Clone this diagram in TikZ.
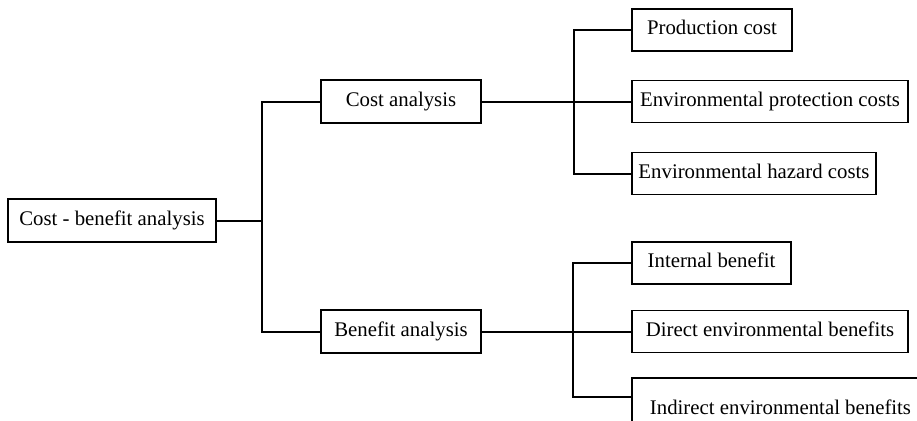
\documentclass[tikz,border=0pt]{standalone}
\usepackage{fontspec}
\setmainfont{Liberation Serif}
\begin{document}
\begin{tikzpicture}[x=1pt,y=-1pt,
  box/.style={draw, line width=1.3pt, rectangle, inner sep=0pt, minimum height=42pt,
    font=\fontsize{20.8}{24}\selectfont, text height=14pt, text depth=4.5pt},
  conn/.style={line width=2pt}]
\useasboundingbox (0,0) rectangle (917,420);
\clip (0,0) rectangle (917,420);
% nodes
\node[box, minimum width=208pt, minimum height=43pt] (root) at (112,220.5) {Cost - benefit analysis};
\node[box, minimum width=160pt, minimum height=43pt] (cost) at (401,101.5) {Cost analysis};
\node[box, minimum width=160pt, minimum height=43pt] (benefit) at (401,331.5) {Benefit analysis};
\node[box, minimum width=160pt] (pc) at (712,30) {Production cost};
\node[box, minimum width=276pt] (epc) at (770,101.5) {Environmental protection costs};
\node[box, minimum width=244pt] (ehc) at (754,173.5) {Environmental hazard costs};
\node[box, minimum width=159pt] (ib) at (711.5,263) {Internal benefit};
\node[box, minimum width=276pt] (deb) at (770,331.5) {Direct environmental benefits};
\node[box, minimum width=297pt, minimum height=64pt] (ieb) at (780.5,410) {Indirect environmental benefits};
% bus coordinates
\coordinate (lv) at (262,0);
\coordinate (cv) at (574,0);
\coordinate (bv) at (573,0);
% connectors
\draw[conn] (root.east) -- (root.east -| lv);
\draw[conn] (cost.west) -- (cost.west -| lv) -- (benefit.west -| lv) -- (benefit.west);
\draw[conn] (cost.east) -- (epc.west);
\draw[conn] (pc.west) -- (pc.west -| cv) -- (ehc.west -| cv) -- (ehc.west);
\draw[conn] (benefit.east) -- (deb.west);
\draw[conn] (ib.west) -- (ib.west -| bv) -- ([yshift=13pt]ieb.west -| bv) -- ([yshift=13pt]ieb.west);
\end{tikzpicture}
\end{document}
